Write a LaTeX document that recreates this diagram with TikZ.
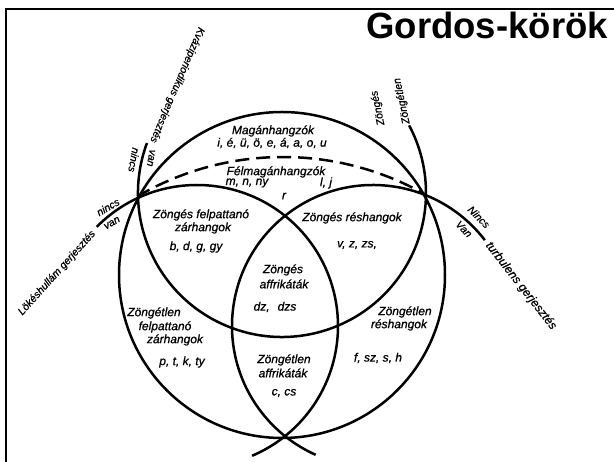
\documentclass[tikz,border=0pt]{standalone}
\usepackage{fontspec}
\setmainfont{Liberation Sans}
\newfontfamily\lblfont{Liberation Sans}[ItalicFeatures={FakeBold=0.8}]
\begin{document}
\begin{tikzpicture}[x=1pt,y=1pt,
  curve/.style={line width=2.5pt},
  lbl/.style={font=\fontsize{12}{13}\selectfont\lblfont\itshape, inner sep=0pt},
  axl/.style={font=\fontsize{10.5}{12}\selectfont\lblfont\itshape, inner sep=0pt}]
\useasboundingbox (0,0) rectangle (614,462);
% frame
\draw[line width=2.6pt] (6,0) -- (6,453) -- (614,453);
% title
\node[anchor=base east, inner sep=0pt, font=\fontsize{36.5}{40}\selectfont\bfseries] (title) at (608,423) {Gordos-körök};
% outer circle
\draw[curve] (282,187) circle[radius=163pt];
% left circle (zárhangok)
\draw[curve] ([shift={(135.3:141pt)}]197,136) arc[start angle=135.3, end angle=-67, radius=141pt];
% right circle (réshangok)
\draw[curve] ([shift={(37.5:141pt)}]373,136) arc[start angle=37.5, end angle=246, radius=141pt];
% voiced / voiceless divider
\draw[curve] ([shift={(159.7:144pt)}]282,269) arc[start angle=159.7, end angle=388, radius=144pt];
% dashed arc
\draw[curve, dash pattern=on 14pt off 7pt] ([shift={(120.3:289pt)}]283,16) arc[start angle=120.3, end angle=60.8, radius=289pt];
% inner labels
\node[lbl] (mag) at (273,331) {Magánhangzók};
\node[lbl] (magl) at (272,319) {i, é, ü, ö, e, á, a, o, u};
\node[lbl] (fel) at (276,290) {Félmagánhangzók};
\node[lbl] (fell) at (247,279) {m, n, ny};
\node[lbl] (felr) at (326,279) {l, j};
\node[lbl] (r) at (284,266) {r};
\node[lbl] (zf1) at (201,247) {Zöngés felpattanó};
\node[lbl] (zf2) at (203,234) {zárhangok};
\node[lbl] (zf3) at (196,215) {b, d, g, gy};
\node[lbl] (zr1) at (352,244) {Zöngés réshangok};
\node[lbl] (zr2) at (357,217) {v, z, zs,};
\node[lbl] (za1) at (283,192) {Zöngés};
\node[lbl] (za2) at (284,178) {affrikáták};
\node[lbl] (za3) at (275,155) {dz,\hspace{8pt}dzs};
\node[lbl] (tf1) at (154,149) {Zöngétlen};
\node[lbl] (tf2) at (165,135) {felpattanó};
\node[lbl] (tf3) at (175,122) {zárhangok};
\node[lbl] (tf4) at (182,100) {p, t, k, ty};
\node[lbl] (ta1) at (284,102) {Zöngétlen};
\node[lbl] (ta2) at (283,89) {affrikáták};
\node[lbl] (ta3) at (284,69) {c, cs};
\node[lbl] (tr1) at (405,150) {Zöngétlen};
\node[lbl] (tr2) at (399,137) {réshangok};
\node[lbl] (tr3) at (378,104) {f, sz, s, h};
% axis labels
\node[axl, rotate=48] (lok) at (57,189) {Lökéshullám gerjesztés};
\node[axl, rotate=30] (lokn) at (108,255) {nincs};
\node[axl, rotate=30] (lokv) at (112,239) {van};
\node[axl, rotate=-113] (kv) at (177,377) {Kváziperiodikus gerjesztés};
\node[axl, rotate=-100] (kvn) at (134,302) {nincs};
\node[axl, rotate=-100] (kvv) at (151,304) {van};
\node[axl, rotate=102] (zg) at (378,354) {Zöngés};
\node[axl, rotate=102] (ztl) at (402,361) {Zöngétlen};
\node[axl, rotate=-45] (tn) at (479,245) {Nincs};
\node[axl, rotate=-45] (tv) at (464,233) {Van};
\node[axl, rotate=-52, font=\fontsize{12}{13}\selectfont\lblfont\itshape] (turb) at (521,176) {turbulens gerjesztés};
\end{tikzpicture}
\end{document}
